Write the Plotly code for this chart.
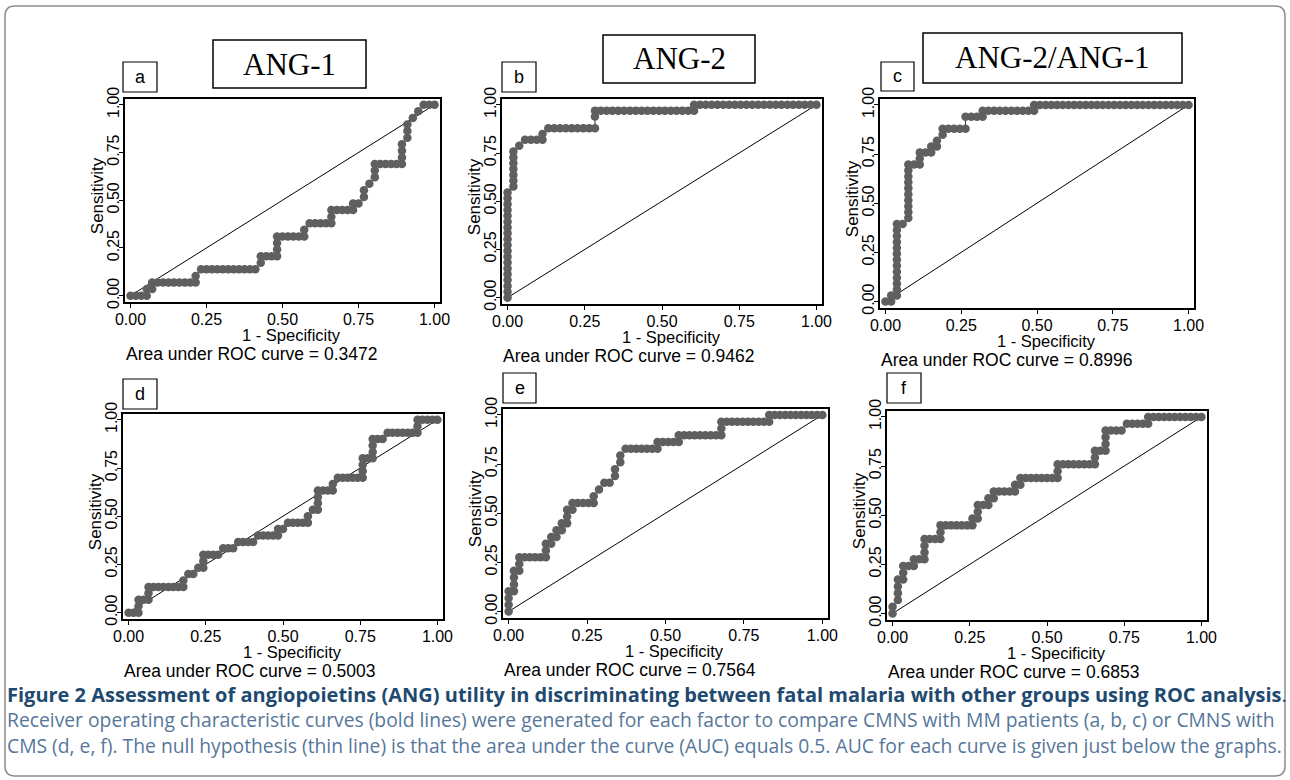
import plotly.graph_objects as go

W, H = 1290, 780

# ---------------- data ----------------
panel_letters = ["a", "b", "c", "d", "e", "f"]
column_titles = ["ANG-1", "ANG-2", "ANG-2/ANG-1"]
auc_values = ["0.3472", "0.9462", "0.8996", "0.5003", "0.7564", "0.6853"]
tick_values = [0, 0.25, 0.5, 0.75, 1.0]
tick_labels = ["0.00", "0.25", "0.50", "0.75", "1.00"]
null_line_x = [0, 1]
null_line_y = [0, 1]
x_title = "1 - Specificity"
y_title = "Sensitivity"

# group sizes per panel (negatives, positives)
n_neg = [56, 53, 53, 62, 59, 58]
n_pos = [29, 33, 33, 30, 29, 29]

# ROC operating points as cumulative counts (false positives, true positives)
roc_a = [(0,0),(1,0),(2,0),(3,0),(3,1),(4,1),(4,2),
         (5,2),(6,2),(7,2),(8,2),(9,2),(10,2),(11,2),(12,2),(12,3),(13,4),
         (14,4),(15,4),(16,4),(17,4),(18,4),(19,4),(20,4),(21,4),(22,4),(23,4),
         (24,5),(24,6),(25,6),(26,6),(27,6),(27,7),(27,8),(27,9),
         (28,9),(29,9),(30,9),(31,9),(32,9),(32,10),(33,11),
         (34,11),(35,11),(36,11),(37,11),(37,12),(37,13),
         (38,13),(39,13),(40,13),(41,13),(41,14),(42,14),
         (43,15),(43,16),(44,17),(45,18),(45,19),(45,20),
         (46,20),(47,20),(48,20),(49,20),(50,20),
         (50,21),(50,22),(50,23),(51,24),(51,25),(51,26),
         (52,27),(53,28),(54,29),(55,29),(56,29)]

roc_b = [(0,0),(0,1),(0,2),(0,3),(0,4),(0,5),(0,6),(0,7),(0,8),(0,9),(0,10),
         (0,11),(0,12),(0,13),(0,14),(0,15),(0,16),(0,17),(0,18),
         (1,19),(1,20),(1,21),(1,22),(1,23),(1,24),(1,25),(2,26),
         (3,27),(4,27),(5,27),(6,27),(6,28),(7,29),
         (8,29),(9,29),(10,29),(11,29),(12,29),(13,29),(14,29),(15,29),
         (15,31),(15,32),(16,32),(17,32),(18,32),(19,32),(20,32),(21,32),
         (22,32),(23,32),(24,32),(25,32),(26,32),(27,32),(28,32),(29,32),
         (30,32),(31,32),(32,32),(32,33),(33,33),(34,33),(35,33),(36,33),
         (37,33),(38,33),(39,33),(40,33),(41,33),(42,33),(43,33),(44,33),
         (45,33),(46,33),(47,33),(48,33),(49,33),(50,33),(51,33),(52,33),(53,33)]

roc_c = [(0,0),(1,0),(1,1),(2,1),(2,2),(2,3),(2,4),(2,5),(2,6),(2,7),(2,8),
         (2,9),(2,10),(2,11),(2,12),(2,13),(3,13),
         (4,14),(4,15),(4,16),(4,17),(4,18),(4,19),(4,20),(4,21),(4,22),(4,23),
         (5,23),(6,23),(6,24),(6,25),(7,25),(8,25),(8,26),(9,26),
         (9,27),(10,28),(10,29),(11,29),(12,29),(13,29),(14,29),
         (14,31),(15,31),(16,31),(17,31),(17,32),
         (18,32),(19,32),(20,32),(21,32),(22,32),(23,32),(24,32),(25,32),(26,32),
         (26,33),(27,33),(28,33),(29,33),(30,33),(31,33),(32,33),(33,33),
         (34,33),(35,33),(36,33),(37,33),(38,33),(39,33),(40,33),(41,33),
         (42,33),(43,33),(44,33),(45,33),(46,33),(47,33),(48,33),(49,33),
         (50,33),(51,33),(52,33),(53,33)]

roc_d = [(0,0),(1,0),(2,0),(2,1),(2,2),(3,2),(4,2),(4,3),(4,4),
         (5,4),(6,4),(7,4),(8,4),(9,4),(10,4),(11,4),
         (11,5),(12,6),(13,6),(14,7),(15,7),(15,8),(15,9),
         (16,9),(17,9),(18,9),(19,10),(20,10),(21,10),
         (22,11),(23,11),(24,11),(25,11),
         (26,12),(27,12),(28,12),(29,12),(30,12),
         (30,13),(31,13),(32,14),(33,14),(34,14),(35,14),(36,14),
         (36,15),(37,16),(38,16),(38,17),(38,18),(38,19),
         (39,19),(40,19),(41,19),(41,20),
         (42,21),(43,21),(44,21),(45,21),(46,21),(47,21),
         (47,22),(47,23),(47,24),(48,24),(49,24),
         (49,25),(49,26),(49,27),(50,27),(51,27),
         (52,28),(53,28),(54,28),(55,28),(56,28),(57,28),(58,28),
         (58,29),(58,30),(59,30),(60,30),(61,30),(62,30)]

roc_e = [(0,0),(0,1),(0,2),(0,3),(1,3),(1,4),(1,5),(1,6),(2,6),(2,7),(2,8),
         (3,8),(4,8),(5,8),(6,8),(7,8),
         (7,9),(7,10),(8,10),(8,11),(9,11),(9,12),(10,12),(10,13),(11,13),
         (11,14),(11,15),(12,15),(12,16),
         (13,16),(14,16),(15,16),(16,16),(16,17),(17,18),(18,19),(19,19),
         (20,20),(20,21),(21,22),(21,23),(22,24),
         (23,24),(24,24),(25,24),(26,24),(27,24),(28,24),
         (28,25),(29,25),(30,25),(31,25),(32,25),
         (32,26),(33,26),(34,26),(35,26),(36,26),(37,26),(38,26),(39,26),(40,26),
         (40,27),(40,28),(41,28),(42,28),(43,28),(44,28),(45,28),(46,28),
         (47,28),(48,28),(49,28),
         (49,29),(50,29),(51,29),(52,29),(53,29),(54,29),(55,29),(56,29),
         (57,29),(58,29),(59,29)]

roc_f = [(0,0),(0,1),(1,2),(1,3),(1,4),(1,5),(2,5),(2,6),(2,7),(3,7),(4,7),
         (4,8),(5,8),(6,8),(6,9),(6,10),(6,11),(7,11),(8,11),(9,11),
         (9,12),(9,13),(10,13),(11,13),(12,13),(13,13),(14,13),(15,13),
         (15,14),(16,14),(16,15),(16,16),(17,16),(18,16),(18,17),(19,17),
         (19,18),(20,18),(21,18),(22,18),(23,18),(23,19),(24,19),(24,20),
         (25,20),(26,20),(27,20),(28,20),(29,20),(30,20),(31,20),
         (31,21),(31,22),(32,22),(33,22),(34,22),(35,22),(36,22),(37,22),(38,22),
         (38,23),(38,24),(39,24),(40,24),(40,25),(40,26),(40,27),
         (41,27),(42,27),(43,27),(44,28),(45,28),(46,28),(47,28),(48,28),
         (48,29),(49,29),(50,29),(51,29),(52,29),(53,29),(54,29),(55,29),
         (56,29),(57,29),(58,29)]

roc_points = [roc_a, roc_b, roc_c, roc_d, roc_e, roc_f]

caption_bold = ("Figure 2 Assessment of angiopoietins (ANG) utility in discriminating "
                "between fatal malaria with other groups using ROC analysis")
caption_line2 = ("Receiver operating characteristic curves (bold lines) were generated for each "
                 "factor to compare CMNS with MM patients (a, b, c) or CMNS with")
caption_line3 = ("CMS (d, e, f). The null hypothesis (thin line) is that the area under the curve "
                 "(AUC) equals 0.5. AUC for each curve is given just below the graphs.")

# ---------------- layout geometry (window pixels) ----------------
boxes = [(125, 99, 440, 302), (502, 99, 822, 304), (880, 99, 1194, 308),
         (123, 414, 443, 619), (503, 409, 828, 618), (887, 411, 1207, 620)]
letter_boxes = [(123, 62, 157, 92), (502, 62, 536, 92), (881, 62, 914, 91),
                (123, 379, 157, 409), (503, 373, 536, 403), (887, 373, 921, 403)]
title_boxes = [(213, 40, 366, 88), (603, 35, 755, 83), (923, 33, 1182, 83)]
XR = [-0.018, 1.018]
YR = [-0.033, 1.03]

SANS = "Liberation Sans, Arial, Helvetica, sans-serif"
SERIF = "Liberation Serif, Times New Roman, serif"
CAPFONT = "Open Sans, Noto Sans, sans-serif"


def px(x):
    return x / W


def py(y):
    return 1 - y / H


fig = go.Figure()
annotations = []
shapes = []

for k in range(6):
    x0, y0, x1, y1 = boxes[k]
    ax = "" if k == 0 else str(k + 1)
    xa, ya = "x" + ax, "y" + ax
    pts = roc_points[k]
    fpr = [p[0] / n_neg[k] for p in pts]
    tpr = [p[1] / n_pos[k] for p in pts]

    fig.add_trace(go.Scatter(x=null_line_x, y=null_line_y, mode="lines",
                             line=dict(color="black", width=1),
                             xaxis=xa, yaxis=ya, showlegend=False, hoverinfo="skip"))
    fig.add_trace(go.Scatter(x=fpr, y=tpr, mode="lines+markers",
                             line=dict(color="#2e2e2e", width=1),
                             marker=dict(size=8.5, color="#5f5f5f"),
                             xaxis=xa, yaxis=ya, showlegend=False))

    common = dict(showgrid=False, zeroline=False, showline=True,
                  mirror=True, linecolor="black", linewidth=1.5,
                  ticks="outside", ticklen=4, tickwidth=1.2, tickcolor="black",
                  tickmode="array", tickvals=tick_values, ticktext=tick_labels,
                  automargin=False,
                  tickfont=dict(family=SANS, size=16, color="black"))
    xd = dict(common, range=XR, domain=[px(x0), px(x1)], anchor=ya,
              ticklabelstandoff=-2)
    yd = dict(common, range=YR, domain=[py(y1), py(y0)], anchor=xa,
              tickangle=-90, ticklabelstandoff=-6)
    fig.update_layout(**{"xaxis" + ax: xd, "yaxis" + ax: yd})

    # data-space pixel positions
    dx0 = x0 + (0 - XR[0]) / (XR[1] - XR[0]) * (x1 - x0)
    dx1 = x0 + (1 - XR[0]) / (XR[1] - XR[0]) * (x1 - x0)
    dy1 = y0 + (YR[1] - 1) / (YR[1] - YR[0]) * (y1 - y0)
    dy0 = y0 + (YR[1] - 0) / (YR[1] - YR[0]) * (y1 - y0)

    annotations.append(dict(text=y_title, x=px(x0 - 28), y=py((dy0 + dy1) / 2 - 4),
                            xref="paper", yref="paper", textangle=-90, showarrow=False,
                            xanchor="center", yanchor="middle",
                            font=dict(family=SANS, size=17, color="black")))
    annotations.append(dict(text=x_title, x=px((dx0 + dx1) / 2 + 9), y=py(y1 + 33),
                            xref="paper", yref="paper", showarrow=False,
                            xanchor="center", yanchor="middle", borderpad=0,
                            font=dict(family=SANS, size=16.5, color="black")))
    annotations.append(dict(text="Area under ROC curve = " + auc_values[k],
                            x=px(x0), y=py(y1 + 52), xref="paper", yref="paper",
                            showarrow=False, xanchor="left", yanchor="middle",
                            borderpad=0,
                            font=dict(family=SANS, size=17.5, color="black")))

    lx0, ly0, lx1, ly1 = letter_boxes[k]
    shapes.append(dict(type="rect", xref="paper", yref="paper",
                       x0=px(lx0), x1=px(lx1), y0=py(ly1), y1=py(ly0),
                       line=dict(color="black", width=1.2)))
    annotations.append(dict(text=panel_letters[k], x=px((lx0 + lx1) / 2),
                            y=py((ly0 + ly1) / 2), xref="paper", yref="paper",
                            showarrow=False, xanchor="center", yanchor="middle",
                            font=dict(family=SANS, size=18, color="black")))

for k in range(3):
    tx0, ty0, tx1, ty1 = title_boxes[k]
    shapes.append(dict(type="rect", xref="paper", yref="paper",
                       x0=px(tx0), x1=px(tx1), y0=py(ty1), y1=py(ty0),
                       line=dict(color="black", width=1.5)))
    annotations.append(dict(text=column_titles[k], x=px((tx0 + tx1) / 2),
                            y=py((ty0 + ty1) / 2), xref="paper", yref="paper",
                            showarrow=False, xanchor="center", yanchor="middle",
                            font=dict(family=SERIF, size=31, color="black")))

# outer rounded frame
fx0, fy0, fx1, fy1, r = 5, 6, 1285, 776, 10
path = (f"M {px(fx0 + r)},{py(fy0)} L {px(fx1 - r)},{py(fy0)} "
        f"Q {px(fx1)},{py(fy0)} {px(fx1)},{py(fy0 + r)} "
        f"L {px(fx1)},{py(fy1 - r)} Q {px(fx1)},{py(fy1)} {px(fx1 - r)},{py(fy1)} "
        f"L {px(fx0 + r)},{py(fy1)} Q {px(fx0)},{py(fy1)} {px(fx0)},{py(fy1 - r)} "
        f"L {px(fx0)},{py(fy0 + r)} Q {px(fx0)},{py(fy0)} {px(fx0 + r)},{py(fy0)} Z")
shapes.append(dict(type="path", xref="paper", yref="paper", path=path,
                   line=dict(color="#8c8c8c", width=1.5)))

annotations.append(dict(text="<b>" + caption_bold + "</b>.", x=px(5), y=py(694),
                        xref="paper", yref="paper", showarrow=False,
                        xanchor="left", yanchor="middle",
                        font=dict(family=CAPFONT, size=20, color="#1f4a70")))
annotations.append(dict(text=caption_line2, x=px(5), y=py(719),
                        xref="paper", yref="paper", showarrow=False,
                        xanchor="left", yanchor="middle",
                        font=dict(family=CAPFONT, size=19.3, color="#56779a")))
annotations.append(dict(text=caption_line3, x=px(5), y=py(745),
                        xref="paper", yref="paper", showarrow=False,
                        xanchor="left", yanchor="middle",
                        font=dict(family=CAPFONT, size=19.3, color="#56779a")))

fig.update_layout(width=W, height=H,
                  margin=dict(l=0, r=0, t=0, b=0, pad=0, autoexpand=False),
                  paper_bgcolor="white", plot_bgcolor="white",
                  annotations=annotations, shapes=shapes, showlegend=False)

fig.write_html("out.html", config={"displayModeBar": False},
               post_script="document.body.style.margin='0px';"
                           "document.body.style.overflow='hidden';")
